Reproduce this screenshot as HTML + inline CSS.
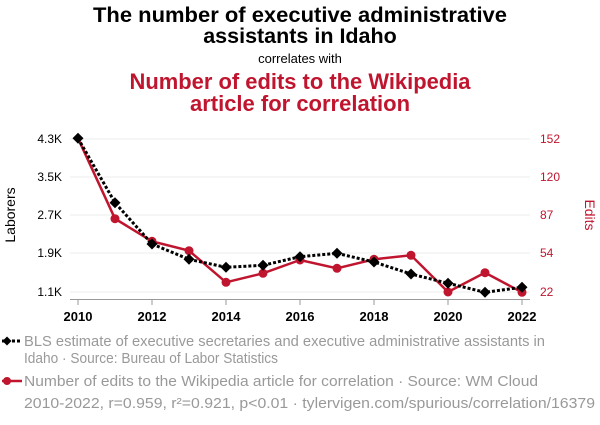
<!DOCTYPE html>
<html><head><meta charset="utf-8"><style>
body{margin:0;background:#fff;}
svg text{font-family:"Liberation Sans",sans-serif;}
</style></head><body>
<svg width="600" height="420" xmlns="http://www.w3.org/2000/svg">
<rect width="600" height="420" fill="#fff"/>
<text x="300" y="22" text-anchor="middle" font-size="21.5" font-weight="bold" fill="#000" textLength="414" lengthAdjust="spacingAndGlyphs">The number of executive administrative</text>
<text x="300" y="43" text-anchor="middle" font-size="21.5" font-weight="bold" fill="#000">assistants in Idaho</text>
<text x="300" y="63" text-anchor="middle" font-size="13" fill="#000">correlates with</text>
<text x="300" y="89" text-anchor="middle" font-size="22" font-weight="bold" fill="#c0152f" textLength="341" lengthAdjust="spacingAndGlyphs">Number of edits to the Wikipedia</text>
<text x="300" y="111" text-anchor="middle" font-size="22" font-weight="bold" fill="#c0152f">article for correlation</text>
<g stroke="#eee" stroke-width="1">
<line x1="70" y1="139" x2="530" y2="139"/><line x1="70" y1="177" x2="530" y2="177"/><line x1="70" y1="215" x2="530" y2="215"/><line x1="70" y1="253" x2="530" y2="253"/><line x1="70" y1="292" x2="530" y2="292"/>
</g>
<line x1="70" y1="299.5" x2="530" y2="299.5" stroke="#999"/>
<g stroke="#999">
<line x1="78" y1="300" x2="78" y2="305"/><line x1="152" y1="300" x2="152" y2="305"/><line x1="226" y1="300" x2="226" y2="305"/><line x1="300" y1="300" x2="300" y2="305"/><line x1="374" y1="300" x2="374" y2="305"/><line x1="448" y1="300" x2="448" y2="305"/><line x1="522" y1="300" x2="522" y2="305"/>
</g>
<g font-size="13" font-weight="bold" text-anchor="middle" fill="#000">
<text x="78" y="321">2010</text><text x="152" y="321">2012</text><text x="226" y="321">2014</text><text x="300" y="321">2016</text><text x="374" y="321">2018</text><text x="448" y="321">2020</text><text x="522" y="321">2022</text>
</g>
<g font-size="12" text-anchor="end" fill="#000">
<text x="62" y="143">4.3K</text><text x="62" y="181">3.5K</text><text x="62" y="219">2.7K</text><text x="62" y="257">1.9K</text><text x="62" y="296">1.1K</text>
</g>
<g font-size="12" text-anchor="start" fill="#c0152f">
<text x="540" y="143">152</text><text x="540" y="181">120</text><text x="540" y="219">87</text><text x="540" y="257">54</text><text x="540" y="296">22</text>
</g>
<text transform="translate(15,215) rotate(-90)" text-anchor="middle" font-size="14" fill="#000">Laborers</text>
<text transform="translate(585,215) rotate(90)" text-anchor="middle" font-size="14" fill="#c0152f">Edits</text>
<polyline fill="none" stroke="#c0152f" stroke-width="2.5" points="78,138.3 115,218.7 152,241.3 189,250.7 226,282.3 263,273.3 300,260 337,268.3 374,259.3 411,255.3 448,292 485,272.7 522,292.3"/>
<g fill="#c0152f">
<circle cx="115" cy="218.7" r="4.5"/><circle cx="152" cy="241.3" r="4.5"/><circle cx="189" cy="250.7" r="4.5"/><circle cx="226" cy="282.3" r="4.5"/><circle cx="263" cy="273.3" r="4.5"/><circle cx="300" cy="260" r="4.5"/><circle cx="337" cy="268.3" r="4.5"/><circle cx="374" cy="259.3" r="4.5"/><circle cx="411" cy="255.3" r="4.5"/><circle cx="448" cy="292" r="4.5"/><circle cx="485" cy="272.7" r="4.5"/><circle cx="522" cy="292.3" r="4.5"/>
</g>
<polyline fill="none" stroke="#000" stroke-width="3" stroke-dasharray="3,2" points="78,138.3 115,202.7 152,244 189,259.3 226,267.3 263,265.3 300,256.7 337,253.3 374,262 411,274 448,283.3 485,292.3 522,287.3"/>
<g fill="#000">
<path d="M78,132.8l5.5,5.5l-5.5,5.5l-5.5,-5.5z"/>
<path d="M115,197.2l5.5,5.5l-5.5,5.5l-5.5,-5.5z"/>
<path d="M152,238.5l5.5,5.5l-5.5,5.5l-5.5,-5.5z"/>
<path d="M189,253.8l5.5,5.5l-5.5,5.5l-5.5,-5.5z"/>
<path d="M226,261.8l5.5,5.5l-5.5,5.5l-5.5,-5.5z"/>
<path d="M263,259.8l5.5,5.5l-5.5,5.5l-5.5,-5.5z"/>
<path d="M300,251.2l5.5,5.5l-5.5,5.5l-5.5,-5.5z"/>
<path d="M337,247.8l5.5,5.5l-5.5,5.5l-5.5,-5.5z"/>
<path d="M374,256.5l5.5,5.5l-5.5,5.5l-5.5,-5.5z"/>
<path d="M411,268.5l5.5,5.5l-5.5,5.5l-5.5,-5.5z"/>
<path d="M448,277.8l5.5,5.5l-5.5,5.5l-5.5,-5.5z"/>
<path d="M485,286.8l5.5,5.5l-5.5,5.5l-5.5,-5.5z"/>
<path d="M522,281.8l5.5,5.5l-5.5,5.5l-5.5,-5.5z"/>
</g>
<line x1="2" y1="341" x2="22" y2="341" stroke="#000" stroke-width="3" stroke-dasharray="3,2"/>
<path d="M7,336.5l4.5,4.5l-4.5,4.5l-4.5,-4.5z" fill="#000"/>
<text x="24" y="346" font-size="14.5" fill="#999" textLength="521" lengthAdjust="spacingAndGlyphs">BLS estimate of executive secretaries and executive administrative assistants in</text>
<text x="24" y="363" font-size="14.5" fill="#999" textLength="254" lengthAdjust="spacingAndGlyphs">Idaho · Source: Bureau of Labor Statistics</text>
<line x1="2" y1="381" x2="22" y2="381" stroke="#c0152f" stroke-width="2.5"/>
<circle cx="7" cy="381" r="4" fill="#c0152f"/>
<text x="24" y="386" font-size="14.5" fill="#999" textLength="514" lengthAdjust="spacingAndGlyphs">Number of edits to the Wikipedia article for correlation · Source: WM Cloud</text>
<text x="24" y="408" font-size="14.5" fill="#999" textLength="571" lengthAdjust="spacingAndGlyphs">2010-2022, r=0.959, r²=0.921, p&lt;0.01 · tylervigen.com/spurious/correlation/16379</text>
</svg>
</body></html>
